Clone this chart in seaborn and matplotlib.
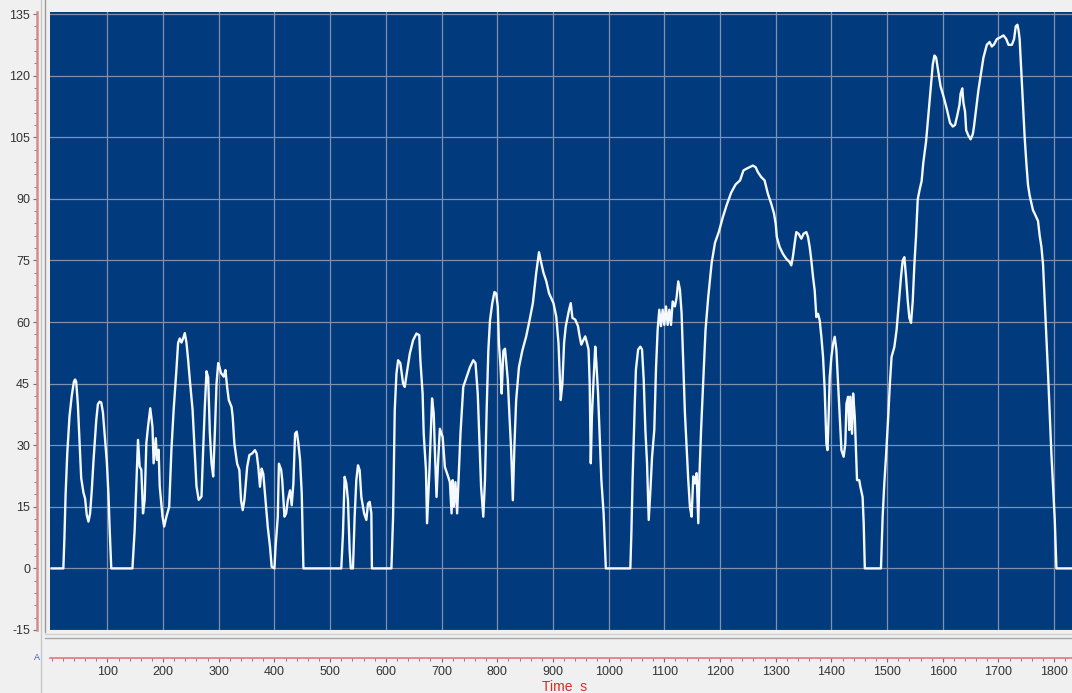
import matplotlib
matplotlib.use("Agg")
import matplotlib.pyplot as plt
from matplotlib.lines import Line2D
from matplotlib.ticker import MultipleLocator
import seaborn as sns
import pandas as pd

# Vehicle speed trace (km/h) against time (s)
time_s = [
    0, 21, 23, 25, 28, 32, 36, 40, 42, 44, 47, 50, 53, 57, 60, 63, 66, 69, 72, 75,
    78, 80, 83, 86, 89, 92, 95, 99, 102, 104, 106, 107, 145, 149, 153, 155, 158, 161, 164, 167,
    170, 173, 177, 181, 183, 187, 189, 192, 194, 199, 202, 206, 211, 215, 219, 224, 227, 230, 233, 236,
    239, 242, 245, 248, 253, 257, 260, 264, 269, 272, 275, 278, 281, 284, 287, 290, 293, 296, 299, 301,
    304, 309, 312, 315, 318, 323, 325, 328, 333, 337, 340, 343, 346, 351, 355, 360, 365, 368, 371, 374,
    377, 380, 383, 388, 392, 395, 400, 402, 406, 408, 412, 414, 418, 421, 424, 428, 431, 434, 437, 440,
    443, 446, 449, 452, 520, 523, 526, 529, 532, 535, 537, 541, 544, 547, 550, 553, 556, 561, 565, 568,
    571, 574, 575, 610, 613, 616, 619, 622, 626, 631, 634, 637, 643, 649, 655, 660, 662, 666, 668, 672,
    674, 678, 680, 683, 686, 688, 691, 694, 697, 702, 706, 709, 712, 715, 718, 720, 722, 725, 728, 731,
    734, 739, 745, 751, 757, 761, 765, 768, 771, 775, 778, 781, 784, 787, 791, 795, 798, 801, 803, 806,
    808, 811, 814, 817, 819, 822, 825, 828, 831, 834, 839, 845, 852, 858, 864, 870, 875, 878, 883, 888,
    893, 898, 901, 906, 910, 914, 917, 920, 923, 929, 932, 935, 940, 945, 948, 951, 955, 958, 961, 964,
    966, 968, 970, 973, 976, 978, 981, 983, 987, 991, 995, 1039, 1041, 1043, 1047, 1049, 1053, 1057, 1060, 1063,
    1066, 1069, 1072, 1075, 1078, 1082, 1085, 1088, 1091, 1094, 1097, 1100, 1103, 1106, 1109, 1112, 1115, 1119, 1122, 1125,
    1128, 1131, 1134, 1137, 1140, 1143, 1146, 1149, 1152, 1155, 1158, 1161, 1163, 1166, 1170, 1174, 1179, 1185, 1191, 1198,
    1205, 1212, 1220, 1228, 1236, 1242, 1247, 1253, 1259, 1264, 1268, 1274, 1280, 1286, 1292, 1297, 1300, 1302, 1307, 1313,
    1319, 1325, 1328, 1331, 1334, 1337, 1341, 1346, 1350, 1355, 1358, 1361, 1364, 1367, 1370, 1373, 1376, 1379, 1382, 1385,
    1388, 1391, 1393, 1395, 1397, 1400, 1403, 1406, 1409, 1412, 1415, 1418, 1422, 1425, 1427, 1430, 1432, 1434, 1437, 1439,
    1442, 1444, 1446, 1450, 1452, 1456, 1458, 1460, 1489, 1492, 1495, 1498, 1502, 1505, 1508, 1513, 1517, 1521, 1525, 1528,
    1531, 1534, 1537, 1540, 1543, 1546, 1549, 1552, 1555, 1559, 1562, 1565, 1570, 1574, 1578, 1582, 1585, 1588, 1592, 1596,
    1601, 1607, 1613, 1618, 1622, 1626, 1630, 1632, 1635, 1637, 1640, 1642, 1646, 1650, 1654, 1656, 1660, 1664, 1668, 1673,
    1679, 1684, 1688, 1692, 1697, 1703, 1709, 1714, 1718, 1724, 1728, 1731, 1734, 1736, 1738, 1741, 1744, 1747, 1750, 1753,
    1756, 1759, 1762, 1765, 1768, 1771, 1774, 1777, 1780, 1783, 1786, 1789, 1792, 1795, 1798, 1801, 1804, 1832,
]
speed_kmh = [
    0, 0, 8, 18, 28, 37, 42, 45.5, 46, 45.5, 40, 31, 22, 18.5, 17, 13, 11.4, 13.4, 19, 26,
    32, 36, 40, 40.6, 40.4, 38, 33, 26, 18, 10, 3, 0, 0, 9.3, 24, 31.3, 24.8, 24, 13.4, 16.7,
    30.5, 34.5, 39, 34.5, 25.6, 31.7, 26.4, 28.9, 20, 12.6, 10.2, 12.6, 15, 28.9, 38.6, 48.4, 54.9, 56, 55, 56,
    57.3, 55, 50.8, 46, 38.6, 28, 20, 16.7, 17.5, 28.9, 39.4, 48, 46.5, 33, 25.6, 22.4, 33, 45, 50, 49.2,
    47.6, 46.7, 48.3, 44.2, 41, 39.3, 37, 30.4, 25.5, 24, 16.6, 14.2, 16.6, 24.7, 27.6, 28, 28.8, 28, 24.7, 19.9,
    24.3, 23, 18.2, 10.1, 5.3, 0.4, 0, 5.3, 12.6, 25.5, 24, 21.5, 12.6, 13.4, 16.6, 19, 15.4, 20.7, 32.8, 33.3,
    30.4, 26.4, 18.2, 0, 0, 8.5, 22.3, 20.7, 16.6, 4.5, 0, 0, 12.6, 21.5, 25.1, 23.9, 17.4, 13.4, 11.8, 15.8,
    16.2, 13.4, 0, 0, 12.6, 38.5, 47.4, 50.7, 50, 45, 44.2, 47, 52.3, 55.6, 57.2, 56.8, 50.7, 42.6, 32.8, 24,
    11, 23, 30.4, 41.4, 37.7, 28.8, 17.4, 26.4, 34, 32, 24.7, 23.5, 22.3, 21, 13.4, 21.5, 15, 21, 13.4, 23,
    32.8, 44.2, 46.6, 49, 50.7, 50, 42.6, 31.6, 19.9, 12.6, 21.5, 38.5, 53, 60.4, 64.5, 67.3, 67, 63.8, 54.9, 49,
    42.6, 53, 53.5, 49, 45.8, 37, 28.8, 16.6, 30.4, 41, 49, 53, 56.5, 60.4, 64.6, 72, 77, 75, 72, 70,
    67, 65.5, 64.6, 61.3, 54.9, 41, 45, 54.9, 58.9, 63, 64.6, 61, 60.6, 59, 56.5, 54.5, 55.7, 56.5, 55, 53.3,
    45.1, 25.6, 37, 46, 54, 50, 42.7, 35.4, 21.5, 13.4, 0, 0, 9.3, 21.5, 40.2, 48.4, 53.3, 54, 53.3, 46,
    33.7, 25.6, 11.8, 19, 27.2, 33.7, 48.4, 58.1, 63, 59, 63, 59.3, 63.8, 59.3, 63, 59.3, 65, 63.8, 65.9, 69.9,
    67.9, 62.2, 50, 37.8, 29.7, 21.5, 15, 12.6, 22.4, 20.7, 23.2, 11, 22.4, 33.7, 46, 58.1, 66.3, 74.4, 79.3, 82,
    85.5, 88.5, 91.5, 93.5, 94.5, 96.9, 97.3, 97.7, 98.1, 97.7, 96.5, 95.3, 94.5, 91.2, 88.8, 86.4, 83.9, 80.7, 78.3, 76.6,
    75.4, 74.6, 73.8, 76, 79.1, 81.9, 81.5, 80.3, 81.5, 81.9, 80.7, 78.3, 75, 71, 67.7, 61.2, 62, 60.4, 56.4, 51.5,
    43.4, 30.4, 28.8, 37, 46.6, 51.5, 54.7, 56.4, 53.1, 45, 36.9, 28.8, 27.2, 30.4, 40.1, 41.8, 33.7, 41.8, 32.8, 42.6,
    36.9, 28.8, 21.5, 21.5, 19.9, 17.4, 11, 0, 0, 12.6, 20.7, 27.2, 36.9, 45, 51.5, 53.9, 58, 64.5, 71, 75,
    75.8, 71, 65.3, 61, 59.8, 65, 74, 81, 89.9, 92.6, 94.3, 98.8, 104, 110.3, 116.5, 122.7, 124.9, 124.4, 120.9, 117.4,
    115.1, 112, 108.5, 107.6, 108, 110.3, 112.9, 115.6, 116.9, 113.5, 111.2, 106.7, 105.4, 104.5, 105.8, 107.6, 112, 116.5, 120, 124.4,
    127.5, 128.2, 127.1, 127.6, 128.9, 129.3, 129.8, 128.9, 127.5, 127.5, 128.9, 132, 132.4, 131.1, 128.9, 120.9, 112.9, 105, 98.8, 93.4,
    90.8, 89, 87.2, 86.4, 85.5, 84.6, 81, 78.4, 74, 65.1, 56.2, 47.4, 37.6, 27.9, 19.9, 12, 0, 0,
]

x_ticks = list(range(100, 1801, 100))
y_ticks = list(range(-15, 136, 15))
x_label = "Time  s"

W, H = 1072, 693
plt.rcParams["font.family"] = ["Liberation Sans", "DejaVu Sans"]
plt.rcParams["axes.unicode_minus"] = False

fig = plt.figure(figsize=(W / 100, H / 100), dpi=100, facecolor="#f0f0f0")


def fx(px):
    return px / W


def fy(py):
    return 1 - py / H


ax = fig.add_axes([fx(50), fy(630), fx(1072) - fx(50), fy(12) - fy(630)])
ax.set_facecolor("#023a7e")
ax.set_axisbelow(True)

df = pd.DataFrame({"t": time_s, "v": speed_kmh})
sns.lineplot(data=df, x="t", y="v", ax=ax, color="#f4f8ff", linewidth=1.7,
             estimator=None, sort=False, legend=False)

ax.set_xlim(-3, 1832)
ax.set_ylim(-15, 135.5)
ax.set_xticks(x_ticks)
ax.set_yticks(y_ticks)
ax.xaxis.set_minor_locator(MultipleLocator(20))
ax.yaxis.set_minor_locator(MultipleLocator(3))
ax.set_xlabel("")
ax.set_ylabel("")

ax.grid(True, which="major", color="#8090ad", linewidth=0.9)
ax.grid(False, which="minor")

for side in ("top", "right"):
    ax.spines[side].set_visible(False)
ax.spines["left"].set_position(("outward", 13 * 0.72))
ax.spines["left"].set_color("#d98a8a")
ax.spines["left"].set_linewidth(1.8)
ax.spines["bottom"].set_position(("outward", 28 * 0.72))
ax.spines["bottom"].set_color("#e07878")
ax.spines["bottom"].set_linewidth(1.2)

ax.tick_params(axis="y", which="major", direction="out", length=3, width=0.8,
               color="#707070", labelsize=9, labelcolor="#333333", pad=2)
ax.tick_params(axis="y", which="minor", direction="out", length=2, width=0.7,
               color="#808080")
ax.tick_params(axis="x", which="major", direction="out", length=3, width=0.8,
               color="#707070", labelsize=9, labelcolor="#333333", pad=2.5)
ax.tick_params(axis="x", which="minor", direction="out", length=1.8, width=0.7,
               color="#808080")

# panel separators
fig.add_artist(Line2D([fx(41), fx(41)], [0, 1], color="#c8c8c8", linewidth=1.0))
fig.add_artist(Line2D([fx(45), fx(45)], [fy(632), 1], color="#9a9a9a", linewidth=1.0))
fig.add_artist(Line2D([fx(45), 1], [fy(634), fy(634)], color="#d0d0d0", linewidth=1.0))
fig.add_artist(Line2D([fx(45), 1], [fy(637.5), fy(637.5)], color="#a8a8a8", linewidth=1.0))

fig.text(fx(565), fy(687), x_label, color="#d42c2c", fontsize=10,
         ha="center", va="center", fontweight="medium")
fig.text(fx(37), fy(657), "A", color="#3a55c8", fontsize=6.5,
         ha="center", va="center")

fig.savefig("out.png", dpi=100, facecolor=fig.get_facecolor())
